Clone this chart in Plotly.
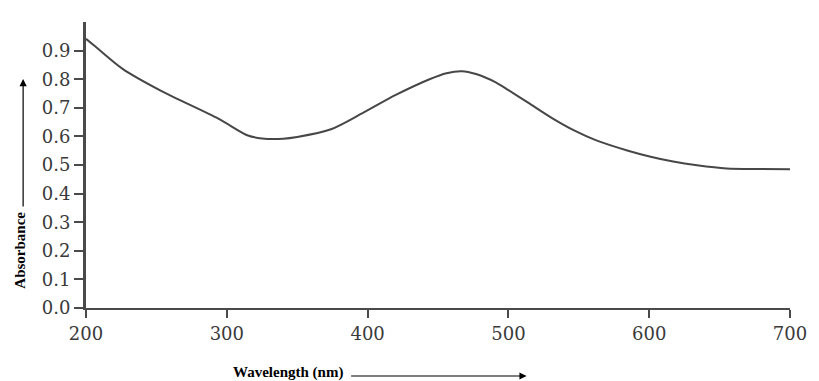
import plotly.graph_objects as go

wavelength = [200, 206, 226, 253, 294, 315, 325, 340, 350, 374, 397, 420, 444, 456,
              467, 477, 491, 500, 514, 531, 547, 562, 585, 601, 617, 634, 655, 680, 700]
absorbance = [0.941, 0.917, 0.836, 0.760, 0.662, 0.603, 0.593, 0.592, 0.598, 0.625, 0.683,
              0.745, 0.800, 0.821, 0.828, 0.818, 0.789, 0.762, 0.718, 0.664, 0.620, 0.587,
              0.550, 0.529, 0.512, 0.499, 0.488, 0.486, 0.485]

x_ticks = [200, 300, 400, 500, 600, 700]
y_ticks = [0.0, 0.1, 0.2, 0.3, 0.4, 0.5, 0.6, 0.7, 0.8, 0.9]

fig = go.Figure()
fig.add_trace(go.Scatter(
    x=wavelength, y=absorbance, mode="lines",
    line=dict(color="#474747", width=2, shape="spline", smoothing=0.8),
    hoverinfo="x+y", showlegend=False,
))

tickfont = dict(family="DejaVu Serif", size=18, color="#3a3a3a")
fig.update_layout(
    width=819, height=381,
    margin=dict(l=86, r=22, t=22, b=73),
    paper_bgcolor="white", plot_bgcolor="white",
    xaxis=dict(
        range=[200, 700], tickvals=x_ticks, ticktext=[str(v) for v in x_ticks],
        showgrid=False, zeroline=False, showline=True, linecolor="#4a4a4a", linewidth=2,
        ticks="outside", ticklen=8, tickwidth=1.5, tickcolor="#4a4a4a",
        tickfont=tickfont,
    ),
    yaxis=dict(
        range=[0, 1.0], tickvals=y_ticks, ticktext=[f"{v:.1f}" for v in y_ticks],
        showgrid=False, zeroline=False, showline=True, linecolor="#4a4a4a", linewidth=3,
        ticks="outside", ticklen=9, tickwidth=1.5, tickcolor="#4a4a4a",
        tickfont=tickfont,
    ),
    annotations=[
        dict(text="<b>Absorbance</b>", xref="paper", yref="paper", x=(19 - 86) / 711,
             y=(308 - 250) / 286, textangle=-90, showarrow=False,
             font=dict(family="Liberation Serif", size=15, color="black"),
             xanchor="center", yanchor="middle"),
        dict(text="", xref="paper", yref="paper", x=(22.5 - 86) / 711, y=(308 - 79) / 286,
             ax=0, ay=129, axref="pixel", ayref="pixel", showarrow=True,
             arrowhead=2, arrowsize=1.2, arrowwidth=1.2, arrowcolor="black"),
        dict(text="<b>Wavelength (nm)</b>", xref="paper", yref="paper", x=(348 - 86) / 711,
             y=(308 - 372) / 286, showarrow=False,
             font=dict(family="Liberation Serif", size=15, color="black"),
             xanchor="right", yanchor="middle"),
        dict(text="", xref="paper", yref="paper", x=(531 - 86) / 711, y=(308 - 376) / 286,
             ax=-177, ay=0, axref="pixel", ayref="pixel", showarrow=True,
             arrowhead=2, arrowsize=1.2, arrowwidth=1.2, arrowcolor="black"),
    ],
)

fig.write_html("out.html")
